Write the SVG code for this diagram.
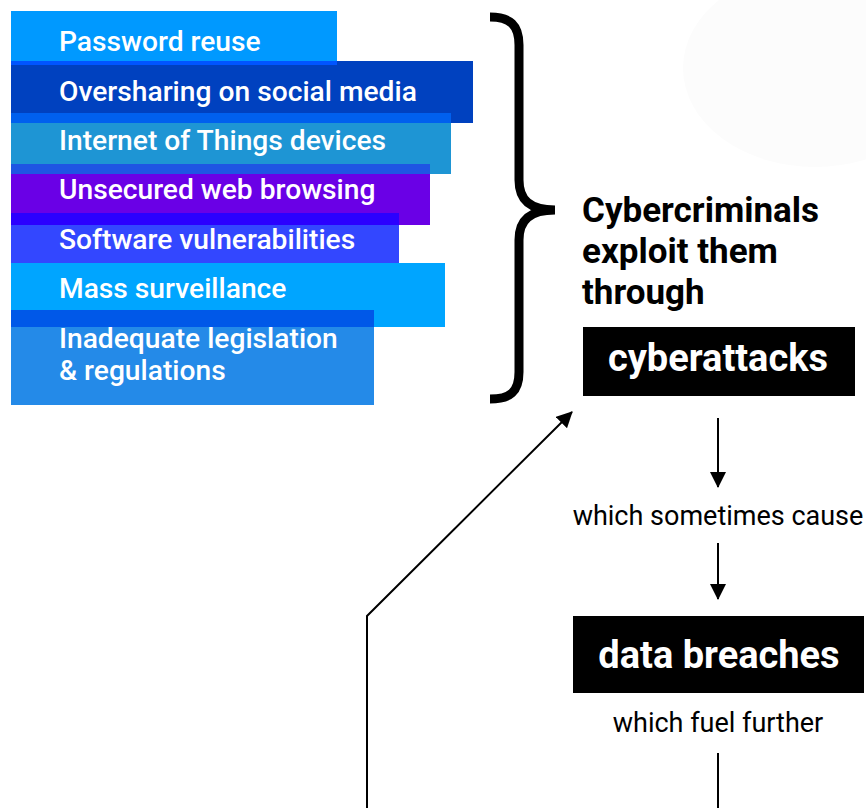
<svg xmlns="http://www.w3.org/2000/svg" width="866" height="808" viewBox="0 0 866 808">
<style>
.bt{font-family:Roboto,"Liberation Sans",sans-serif;font-size:28.2px;font-weight:500;fill:#fff}
.hd{font-family:Roboto,"Liberation Sans",sans-serif;font-size:35px;font-weight:700;fill:#000}
.bx{font-family:Roboto,"Liberation Sans",sans-serif;font-size:38px;font-weight:700;fill:#fff;text-anchor:middle}
.lb{font-family:Roboto,"Liberation Sans",sans-serif;font-size:27px;font-weight:400;fill:#000;text-anchor:middle}
.cn{fill:none;stroke:#000;stroke-width:2}
</style>
<defs>
<marker id="ah" markerUnits="userSpaceOnUse" markerWidth="16" markerHeight="16" viewBox="0 0 16 16" refX="15" refY="8" orient="auto">
<path d="M0,0 L16,8 L0,16 Z" fill="#000"/>
</marker>
</defs>
<rect width="866" height="808" fill="#fff"/>
<ellipse cx="815" cy="68" rx="132" ry="99" fill="#fcfcfc"/>
<g id="bars">
<g id="n1"><rect x="11" y="11" width="326" height="54" fill="#0099ff"/></g>
<g id="n2"><rect x="11" y="61" width="462" height="62" fill="#0041bf"/><rect x="11" y="61" width="326" height="4" fill="#0055ff"/></g>
<g id="n3"><rect x="11" y="113" width="440" height="61" fill="#1e95d4"/><rect x="11" y="113" width="440" height="10" fill="#0060ee"/></g>
<g id="n4"><rect x="11" y="164" width="419" height="61" fill="#6a00e6"/><rect x="11" y="164" width="419" height="10" fill="#1f55e3"/></g>
<g id="n5"><rect x="11" y="213" width="388" height="50" fill="#3347ff"/><rect x="11" y="213" width="388" height="12" fill="#2b00ff"/></g>
<g id="n6"><rect x="11" y="263" width="434" height="64" fill="#00a5ff"/></g>
<g id="n7"><rect x="11" y="310" width="363" height="95" fill="#248ae8"/><rect x="11" y="310" width="363" height="17" fill="#0058e8"/></g>
<text class="bt" x="59" y="51">Password reuse</text>
<text class="bt" x="59" y="101">Oversharing on social media</text>
<text class="bt" x="59" y="150">Internet of Things devices</text>
<text class="bt" x="59" y="199">Unsecured web browsing</text>
<text class="bt" x="59" y="249">Software vulnerabilities</text>
<text class="bt" x="59" y="298">Mass surveillance</text>
<text class="bt" x="59" y="348">Inadequate legislation</text>
<text class="bt" x="59" y="380">&amp; regulations</text>
</g>
<g id="brace">
<path d="M490,17 C510,17 519,25 519,45 L519,180 C519,200 530,210 555,210 C530,210 519,220 519,240 L519,372 C519,392 510,399 490,399" fill="none" stroke="#000" stroke-width="9" stroke-linejoin="miter"/>
</g>
<g id="heading">
<text class="hd" x="582" y="222">Cybercriminals</text>
<text class="hd" x="582" y="263">exploit them</text>
<text class="hd" x="582" y="304">through</text>
</g>
<g id="cyberattacks">
<rect x="583" y="327" width="272" height="69" fill="#000"/>
<text class="bx" x="718" y="371">cyberattacks</text>
</g>
<g id="cause"><text class="lb" x="718" y="525">which sometimes cause</text></g>
<g id="breaches">
<rect x="573" y="616" width="291" height="77" fill="#000"/>
<text class="bx" x="719" y="668">data breaches</text>
</g>
<g id="fuel"><text class="lb" x="718" y="732">which fuel further</text></g>
<g id="connectors">
<line class="cn" x1="718" y1="418" x2="718" y2="487" marker-end="url(#ah)"/>
<line class="cn" x1="718" y1="543" x2="718" y2="599" marker-end="url(#ah)"/>
<line class="cn" x1="718" y1="753" x2="718" y2="808"/>
<polyline class="cn" points="367,808 367,616 572,412" marker-end="url(#ah)"/>
</g>
</svg>
